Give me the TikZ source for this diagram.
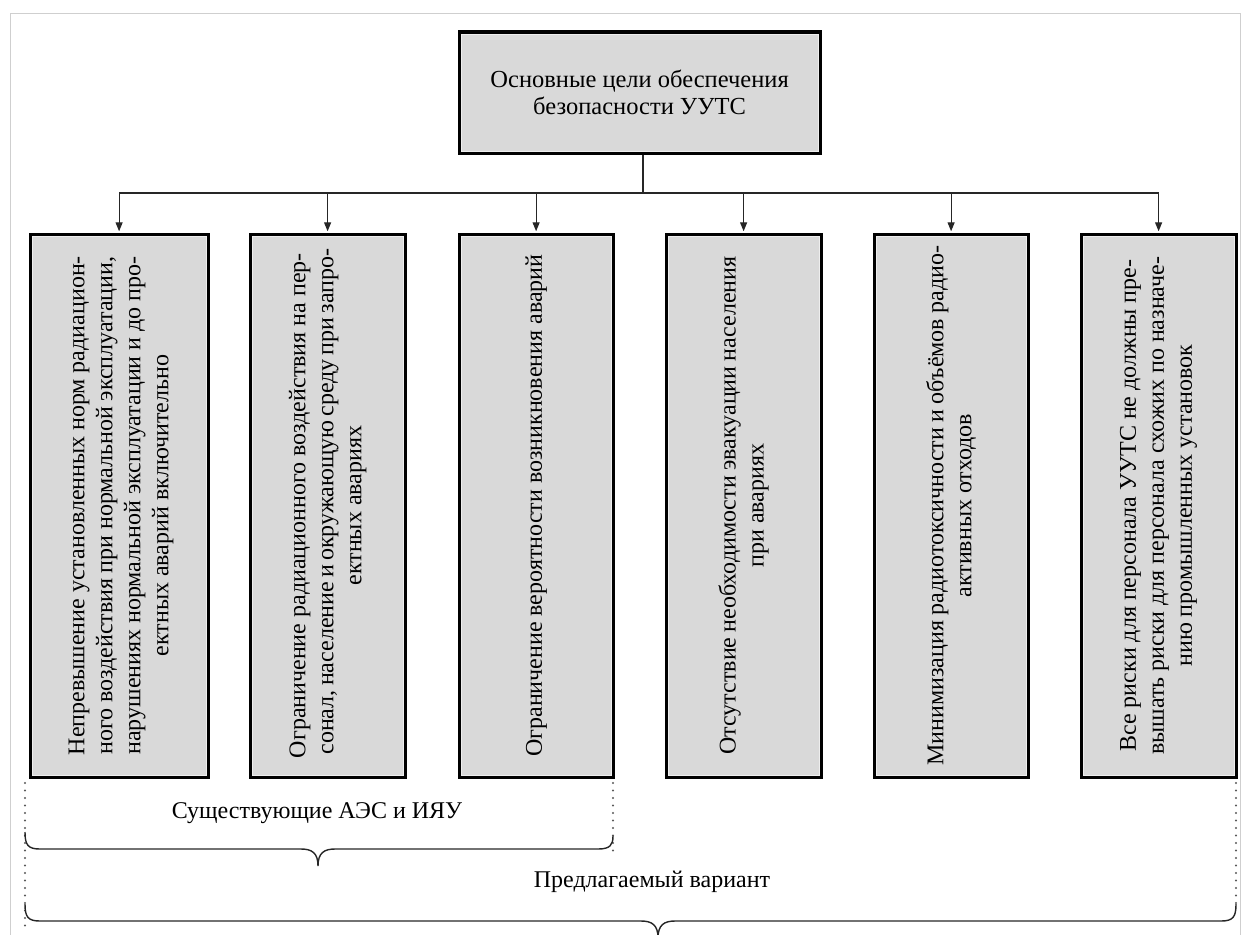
\documentclass[tikz,border=0pt]{standalone}
\usepackage{fontspec}
\setmainfont{Liberation Serif}
\usetikzlibrary{arrows.meta}
\definecolor{boxgray}{HTML}{D9D9D9}
\definecolor{framegray}{HTML}{CFCFCF}
\definecolor{innergray}{HTML}{EEEEEE}
\newlength{\linew}
\setlength{\linew}{498pt}
\newcommand{\jl}[1]{\makebox[\linew][s]{#1}}
\newcommand{\cl}[1]{\makebox[\linew][c]{#1}}
\begin{document}
\begin{tikzpicture}[x=1pt,y=-1pt,
  goal/.style={draw=black, line width=3.2pt, fill=boxgray, inner sep=0pt, anchor=north west},
  innerline/.style={draw=innergray, line width=0.9pt},
  vtext/.style={rotate=90, align=center, font=\fontsize{24}{28}\selectfont, inner sep=0pt},
  conn/.style={draw=black!85, line width=1.2pt},
  arr/.style={conn, -{Triangle[length=9pt,width=7pt]}, shorten >=1.2pt},
  dots/.style={draw=black!65, line width=2.3pt, line cap=round, dash pattern=on 0pt off 7.5pt},
  bracestyle/.style={draw=black!85, line width=1.4pt},
  lbl/.style={font=\fontsize{24}{28}\selectfont, inner sep=0pt}
]
\useasboundingbox (0,0) rectangle (1246,934);
\draw[framegray, line width=1pt] (10,940) -- (10,14) -- (1240,14) -- (1240,940);

% top box
\node[goal, minimum width=361pt, minimum height=121pt, align=center,
      font=\fontsize{24.5}{27}\selectfont] (top) at (457.5,30.5)
      {Основные цели обеспечения\\безопасности УУТС};
\draw[innerline] ([shift={(3.5,3.5)}]top.north west) rectangle ([shift={(-3.5,-3.5)}]top.south east);

% goal boxes
\node[goal, minimum width=178pt, minimum height=543pt] (b1) at (28.5,232.5) {};
\node[goal, minimum width=155pt, minimum height=543pt] (b2) at (248.5,232.5) {};
\node[goal, minimum width=154pt, minimum height=543pt] (b3) at (457.5,232.5) {};
\node[goal, minimum width=155pt, minimum height=543pt] (b4) at (664.5,232.5) {};
\node[goal, minimum width=154pt, minimum height=543pt] (b5) at (872.5,232.5) {};
\node[goal, minimum width=155pt, minimum height=543pt] (b6) at (1079.5,232.5) {};
\foreach \i in {1,...,6}
  \draw[innerline] ([shift={(3.5,3.5)}]b\i.north west) rectangle ([shift={(-3.5,-3.5)}]b\i.south east);

\node[vtext] (t1) at ([xshift=2pt]b1.center) {\setlength{\linew}{499pt}%
  \jl{Непревышение установленных норм радиацион-}\\
  \jl{ного воздействия при нормальной эксплуатации,}\\
  \jl{нарушениях нормальной эксплуатации и до про-}\\
  \cl{ектных аварий включительно}};
\node[vtext] (t2) at (b2.center) {\setlength{\linew}{505pt}%
  \jl{Ограничение радиационного воздействия на пер-}\\
  \jl{сонал, население и окружающую среду при запро-}\\
  \cl{ектных авариях}};
\node[vtext] (t3) at (b3.center) {\setlength{\linew}{500pt}%
  \cl{Ограничение вероятности возникновения аварий}};
\node[vtext] (t4) at (b4.center) {\setlength{\linew}{498pt}%
  \jl{Отсутствие необходимости эвакуации населения}\\
  \cl{при авариях}};
\node[vtext] (t5) at (b5.center) {\setlength{\linew}{520pt}%
  \jl{Минимизация радиотоксичности и объёмов радио-}\\
  \cl{активных отходов}};
\node[vtext] (t6) at (b6.center) {\setlength{\linew}{492pt}%
  \jl{Все риски для персонала УУТС не должны пре-}\\
  \jl{вышать риски для персонала схожих по назначе-}\\
  \cl{нию промышленных установок}};

% connectors
\coordinate (hub) at (643,193);
\coordinate (hl) at (b1.north |- hub);
\coordinate (hr) at (b6.north |- hub);
\draw[conn] (top.south -| hub) -- (hub);
\draw[conn] (hl) -- (hr);
\foreach \i in {1,...,6}
  \draw[arr] (b\i.north |- hub) -- (b\i.north);

% dotted guides
\draw[dots] (25,783) -- (25,930);
\draw[dots] (613,783) -- (613,856);
\draw[dots] (1236,783) -- (1236,905);

% braces
\draw[bracestyle] (25,832) .. controls (25,845) and (28,849) .. (40,849) -- (301,849)
  .. controls (312,849) and (318,853) .. (318,866)
  .. controls (318,853) and (324,849) .. (335,849) -- (598,849)
  .. controls (610,849) and (613,845) .. (613,836);
\draw[bracestyle] (25,904) .. controls (25,917) and (28,921) .. (40,921) -- (641,921)
  .. controls (652,921) and (658,925) .. (658,938)
  .. controls (658,925) and (664,921) .. (675,921) -- (1221,921)
  .. controls (1233,921) and (1236,917) .. (1236,904);

\node[lbl] (l1) at (317,813) {Существующие АЭС и ИЯУ};
\node[lbl] (l2) at (652,882) {Предлагаемый вариант};
\end{tikzpicture}
\end{document}
